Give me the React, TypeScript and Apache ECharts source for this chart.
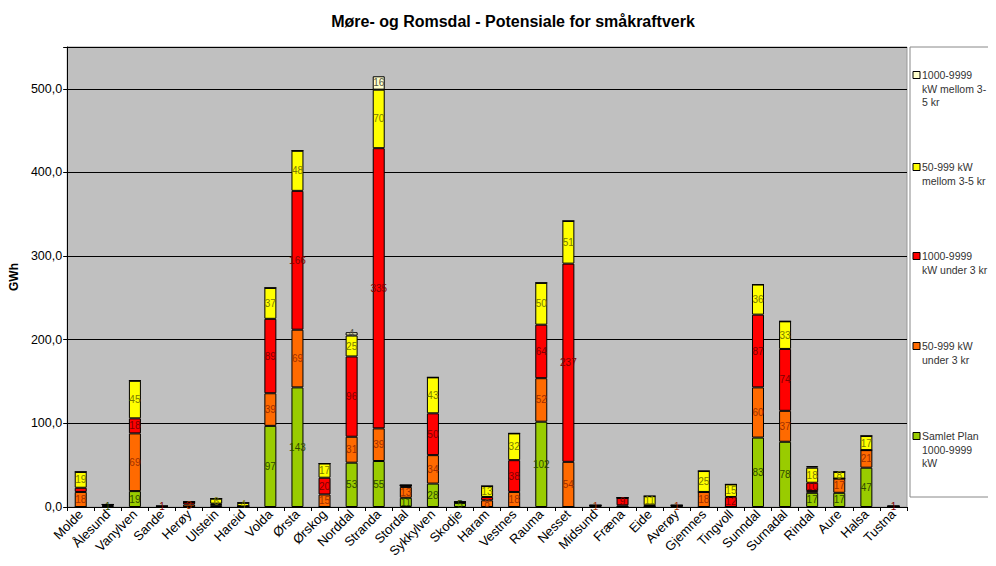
import React, { useEffect, useRef } from "react";
import * as echarts from "echarts";

const categories = [
  "Molde", "Ålesund", "Vanylven", "Sande", "Herøy", "Ulstein", "Hareid", "Volda", "Ørsta", "Ørskog",
  "Norddal", "Stranda", "Stordal", "Sykkylven", "Skodje", "Haram", "Vestnes", "Rauma", "Nesset", "Midsund",
  "Fræna", "Eide", "Averøy", "Gjemnes", "Tingvoll", "Sunndal", "Surnadal", "Rindal", "Aure", "Halsa", "Tustna",
];

const samletPlan = [0, 1, 19, 0, 0, 2, 1, 97, 143, 0, 53, 55, 11, 28, 5, 0, 0, 102, 0, 0, 0, 1, 0, 0, 0, 83, 78, 17, 17, 47, 0];
const smallUnder3 = [18, 1, 69, 0, 3, 1, 0, 39, 69, 15, 31, 39, 13, 34, 0, 8, 18, 52, 54, 1, 2, 0, 1, 18, 0, 60, 37, 2, 17, 21, 0];
const largeUnder3 = [5, 1, 18, 1, 3, 1, 0, 89, 166, 20, 96, 335, 2, 50, 1, 4, 38, 64, 237, 1, 9, 1, 1, 0, 12, 87, 74, 10, 0, 0, 1];
const smallMellom = [19, 0, 45, 0, 0, 6, 4, 37, 48, 17, 25, 70, 0, 43, 0, 13, 32, 50, 51, 0, 0, 11, 0, 25, 15, 36, 33, 18, 8, 17, 0];
const largeMellom = [0, 0, 0, 0, 0, 0, 0, 0, 0, 0, 4, 16, 0, 0, 0, 0, 0, 0, 0, 0, 0, 0, 0, 0, 0, 0, 0, 2, 0, 0, 0];

const seriesDefs = [
  { name: "Samlet Plan 1000-9999 kW", data: samletPlan, color: "#99cc00", label: "#2f4a00", legend: ["Samlet Plan", "1000-9999", "kW"] },
  { name: "50-999 kW under 3 kr", data: smallUnder3, color: "#ff6a00", label: "#a03000", legend: ["50-999 kW", "under 3 kr"] },
  { name: "1000-9999 kW under 3 kr", data: largeUnder3, color: "#ff0000", label: "#800000", legend: ["1000-9999", "kW under 3 kr"] },
  { name: "50-999 kW mellom 3-5 kr", data: smallMellom, color: "#ffff00", label: "#7a7a00", legend: ["50-999 kW", "mellom 3-5 kr"] },
  { name: "1000-9999 kW mellom 3-5 kr", data: largeMellom, color: "#ffffcc", label: "#555544", legend: ["1000-9999", "kW mellom 3-", "5 kr"] },
];

const legendTops = [436, 346, 256, 167, 75];

export default function App() {
  const ref = useRef<HTMLDivElement>(null);
  useEffect(() => {
    if (!ref.current) return;
    const chart = echarts.init(ref.current, null, { renderer: "svg" });
    const font = "Liberation Sans, Arial, sans-serif";
    const graphics: any[] = [
      {
        type: "rect",
        shape: { x: 910, y: 47, width: 83, height: 450 },
        style: { fill: "#ffffff", stroke: "#888888", lineWidth: 1 },
      },
    ];
    seriesDefs.forEach((s, i) => {
      const cy = legendTops[i];
      graphics.push({
        type: "rect",
        shape: { x: 913, y: cy - 3.5, width: 7, height: 7 },
        style: { fill: s.color, stroke: "#000", lineWidth: 1 },
      });
      graphics.push({
        type: "text",
        x: 922,
        y: cy - 6.5,
        style: {
          text: s.legend.join("\n"),
          fontSize: 10.5,
          lineHeight: 13.5,
          fontFamily: font,
          fill: "#333333",
        },
      });
    });

    chart.setOption({
      animation: false,
      backgroundColor: "#ffffff",
      textStyle: { fontFamily: font },
      title: {
        text: "Møre- og Romsdal - Potensiale for småkraftverk",
        left: 508,
        textAlign: "center",
        top: 8,
        textStyle: { fontSize: 16, fontWeight: "bold", color: "#000", fontFamily: font },
      },
      grid: {
        left: 66,
        right: 89,
        top: 47,
        bottom: 59,
        show: true,
        backgroundColor: "#c0c0c0",
        borderColor: "#999999",
        borderWidth: 1,
      },
      xAxis: {
        type: "category",
        data: categories,
        axisLine: { lineStyle: { color: "#000" } },
        axisTick: { show: true, lineStyle: { color: "#000" }, length: 4 },
        axisLabel: { interval: 0, rotate: 45, fontSize: 13, color: "#000", margin: 5 },
      },
      yAxis: {
        type: "value",
        min: 0,
        max: 550,
        interval: 100,
        name: "GWh",
        nameLocation: "middle",
        nameGap: 42,
        nameTextStyle: { fontWeight: "bold", fontSize: 12, color: "#000" },
        axisLine: { show: true, lineStyle: { color: "#000" } },
        axisTick: { show: true, lineStyle: { color: "#000" }, length: 4 },
        axisLabel: {
          fontSize: 12.5,
          color: "#000",
          margin: 5,
          formatter: (v: number) => (v > 500 ? "" : v.toFixed(1).replace(".", ",")),
        },
        splitLine: { lineStyle: { color: "#000", width: 1 } },
      },
      series: seriesDefs.map((s) => ({
        name: s.name,
        type: "bar",
        stack: "total",
        barWidth: 12,
        data: s.data,
        itemStyle: { color: s.color, borderColor: "#000", borderWidth: 1 },
        labelLayout: { hideOverlap: true },
        label: {
          show: true,
          position: "inside",
          fontSize: 10,
          color: s.label,
          formatter: (p: any) => (p.value > 0 ? String(p.value) : ""),
        },
      })),
      graphic: graphics,
    });
    return () => chart.dispose();
  }, []);
  return <div ref={ref} style={{ width: 996, height: 566, margin: -8 }} />;
}
